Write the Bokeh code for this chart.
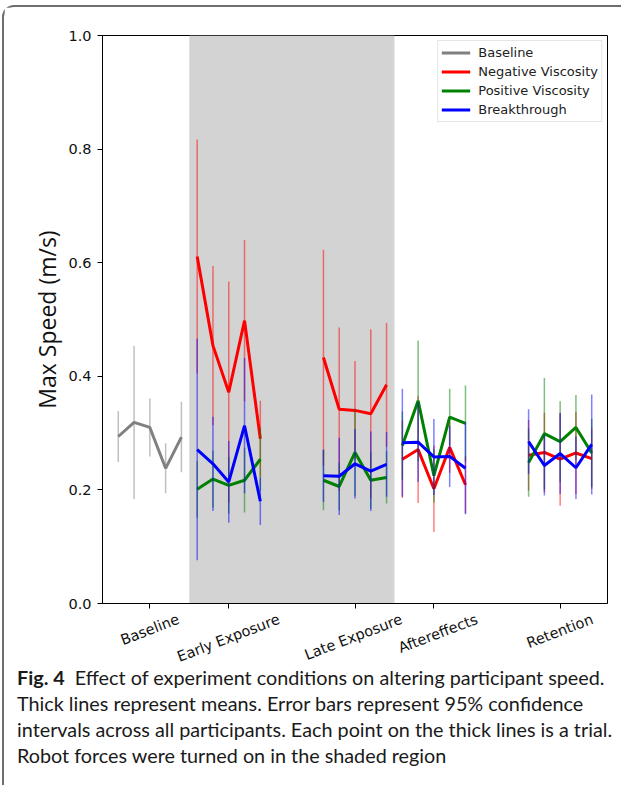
import math
from bokeh.plotting import figure
from bokeh.models import (FixedTicker, BoxAnnotation, Legend, LegendItem, Div,
                          LinearAxis, PrintfTickFormatter, CustomJSTickFormatter)
from bokeh.layouts import column
from bokeh.embed import file_html
from bokeh.resources import INLINE

# ---------------- data ----------------
phases = ["Baseline", "Early Exposure", "Late Exposure", "Aftereffects", "Retention"]
baseline_trials = [0, 1, 2, 3, 4]
early_trials = [5, 6, 7, 8, 9]
late_trials = [13, 14, 15, 16, 17]
after_trials = [18, 19, 20, 21, 22]
retention_trials = [26, 27, 28, 29, 30]

baseline_mean = [0.294, 0.319, 0.310, 0.238, 0.293]
baseline_ci = [0.045, 0.135, 0.051, 0.044, 0.062]

neg_early = [0.611, 0.454, 0.372, 0.498, 0.290]
neg_early_ci = [0.206, 0.140, 0.195, 0.142, 0.067]
neg_late = [0.433, 0.342, 0.340, 0.334, 0.385]
neg_late_ci = [0.190, 0.144, 0.087, 0.149, 0.109]
neg_after = [0.254, 0.271, 0.202, 0.275, 0.209]
neg_after_ci = [0.068, 0.094, 0.076, 0.045, 0.050]
neg_ret = [0.261, 0.266, 0.254, 0.265, 0.255]
neg_ret_ci = [0.062, 0.070, 0.082, 0.072, 0.053]

pos_early = [0.201, 0.219, 0.208, 0.217, 0.254]
pos_early_ci = [0.050, 0.050, 0.050, 0.057, 0.056]
pos_late = [0.217, 0.206, 0.266, 0.217, 0.222]
pos_late_ci = [0.053, 0.042, 0.077, 0.050, 0.046]
pos_after = [0.278, 0.357, 0.225, 0.328, 0.317]
pos_after_ci = [0.060, 0.106, 0.047, 0.050, 0.067]
pos_ret = [0.248, 0.299, 0.285, 0.310, 0.265]
pos_ret_ci = [0.060, 0.098, 0.071, 0.057, 0.060]

brk_early = [0.271, 0.246, 0.214, 0.313, 0.180]
brk_early_ci = [0.195, 0.083, 0.072, 0.119, 0.042]
brk_late = [0.225, 0.224, 0.246, 0.233, 0.245]
brk_late_ci = [0.046, 0.068, 0.061, 0.070, 0.057]
brk_after = [0.283, 0.284, 0.258, 0.259, 0.238]
brk_after_ci = [0.095, 0.070, 0.067, 0.054, 0.081]
brk_ret = [0.285, 0.243, 0.264, 0.239, 0.280]
brk_ret_ci = [0.057, 0.053, 0.071, 0.055, 0.088]

y_ticks = [0.0, 0.2, 0.4, 0.6, 0.8, 1.0]

groups = [early_trials, late_trials, after_trials, retention_trials]
series = [
    ("Negative Viscosity", "#ff0000",
     [neg_early, neg_late, neg_after, neg_ret],
     [neg_early_ci, neg_late_ci, neg_after_ci, neg_ret_ci]),
    ("Positive Viscosity", "#008000",
     [pos_early, pos_late, pos_after, pos_ret],
     [pos_early_ci, pos_late_ci, pos_after_ci, pos_ret_ci]),
    ("Breakthrough", "#0000ff",
     [brk_early, brk_late, brk_after, brk_ret],
     [brk_early_ci, brk_late_ci, brk_after_ci, brk_ret_ci]),
]

# ---------------- figure ----------------
FRAME_W = 505
X_LO, X_HI = -1, 31
p = figure(frame_width=FRAME_W, frame_height=568, output_backend="svg",
           toolbar_location=None, x_range=(X_LO, X_HI), y_range=(0, 1),
           min_border_left=98, min_border_top=28, min_border_right=14,
           min_border_bottom=60)
p.background_fill_color = "white"
p.border_fill_color = "white"
p.outline_line_color = "black"
p.outline_line_width = 1
p.xgrid.visible = False
p.ygrid.visible = False

# shaded region (robot forces on): early + late exposure
p.add_layout(BoxAnnotation(left=early_trials[0] - 0.5, right=late_trials[-1] + 0.5,
                           fill_color="#d3d3d3", fill_alpha=1.0, line_alpha=0,
                           level="underlay"))

# baseline
lo = [m - c for m, c in zip(baseline_mean, baseline_ci)]
hi = [m + c for m, c in zip(baseline_mean, baseline_ci)]
p.segment(x0=baseline_trials, y0=lo, x1=baseline_trials, y1=hi,
          line_color="#808080", line_alpha=0.5, line_width=1.5)
r_base = p.line(baseline_trials, baseline_mean, line_color="#808080", line_width=3)
legend_items = [LegendItem(label="Baseline", renderers=[r_base])]

for name, color, means, cis in series:
    first = None
    for xs, m, c in zip(groups, means, cis):
        lo = [a - b for a, b in zip(m, c)]
        hi = [a + b for a, b in zip(m, c)]
        p.segment(x0=xs, y0=lo, x1=xs, y1=hi, line_color=color,
                  line_alpha=0.5, line_width=1.5)
        r = p.line(xs, m, line_color=color, line_width=3)
        if first is None:
            first = r
    legend_items.append(LegendItem(label=name, renderers=[first]))

legend = Legend(items=legend_items, location="top_right")
legend.label_text_font = "DejaVu Sans"
legend.label_text_font_size = "13px"
legend.label_text_color = "#222222"
legend.border_line_color = "#cccccc"
legend.border_line_width = 1
legend.background_fill_alpha = 1.0
legend.glyph_width = 29
legend.glyph_height = 17
legend.label_height = 17
legend.spacing = 2
legend.padding = 3
legend.margin = 5
legend.label_standoff = 8
p.add_layout(legend)

# axes: bottom axis carries only the tick marks
centers = [sum(g) / len(g) for g in [baseline_trials] + groups]
xa = p.xaxis[0]
xa.ticker = FixedTicker(ticks=centers)
xa.formatter = CustomJSTickFormatter(code="return ''")
xa.major_label_text_font_size = "0px"
xa.major_label_standoff = 0

p.yaxis.ticker = FixedTicker(ticks=y_ticks)
p.yaxis.formatter = PrintfTickFormatter(format="%.1f")
for ax in (xa, p.yaxis[0]):
    ax.major_tick_out = 5
    ax.major_tick_in = 0
    ax.minor_tick_out = 0
    ax.minor_tick_in = 0
    ax.axis_line_color = "black"
    ax.major_tick_line_color = "black"
ya = p.yaxis[0]
ya.major_label_text_font = "DejaVu Sans"
ya.major_label_text_font_size = "14.5px"
ya.major_label_text_color = "#111111"
ya.major_label_standoff = 6
ya.axis_label = "Max Speed (m/s)"
ya.axis_label_text_font = "Open Sans"
ya.axis_label_text_font_style = "normal"
ya.axis_label_text_font_size = "23px"
ya.axis_label_text_color = "#111111"
ya.axis_label_standoff = 2

# second bottom axis: the rotated category names, centred under each tick
# (Bokeh ends rotated labels at the tick; shift by half the label's run)
ang = math.radians(21)
fs = 14.5
px_per_unit = FRAME_W / (X_HI - X_LO)
label_pos = [c + 0.53 * fs * len(lab) / 2 * math.cos(ang) / px_per_unit
             for c, lab in zip(centers, phases)]
la = LinearAxis(ticker=FixedTicker(ticks=label_pos),
                formatter=CustomJSTickFormatter(args=dict(labels=phases),
                                                code="return labels[index];"))
la.axis_line_color = None
la.major_tick_line_color = None
la.minor_tick_line_color = None
la.major_tick_out = 0
la.major_tick_in = 0
la.minor_tick_out = 0
la.minor_tick_in = 0
la.major_label_orientation = ang
la.major_label_standoff = 10
la.major_label_text_font = "DejaVu Sans"
la.major_label_text_font_size = "14.5px"
la.major_label_text_color = "#111111"
p.add_layout(la, "below")

caption = Div(
    text=("<b>Fig. 4</b>&nbsp;&nbsp;Effect of experiment conditions on altering participant speed.<br>"
          "Thick lines represent means. Error bars represent 95% confidence<br>"
          "intervals across all participants. Each point on the thick lines is a trial.<br>"
          "Robot forces were turned on in the shaded region"),
    width=598, height=121, margin=(-11, 0, 0, 13),
    styles={"font-family": "Lato", "font-size": "19.8px", "line-height": "26px",
            "color": "#1a1a1a", "white-space": "nowrap"})

layout = column(p, caption,
                styles={"border-top": "2px solid #6e6e6e",
                        "border-left": "2px solid #6e6e6e",
                        "border-top-left-radius": "12px",
                        "margin-top": "5px", "margin-left": "2px",
                        "background-color": "white"})

open("out.html", "w").write(file_html(layout, INLINE))
